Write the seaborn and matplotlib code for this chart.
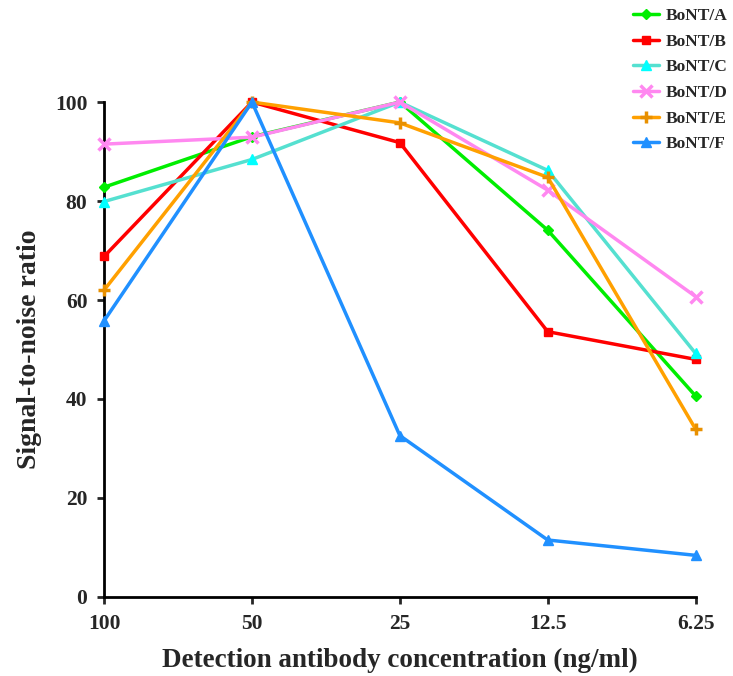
import pandas as pd
import seaborn as sns
import matplotlib.pyplot as plt

concentrations = ['100', '50', '25', '12.5', '6.25']
series_names = ['BoNT/A', 'BoNT/B', 'BoNT/C', 'BoNT/D', 'BoNT/E', 'BoNT/F']

bont_a = [82.8, 93.0, 100.0, 74.1, 40.6]
bont_b = [68.8, 100.0, 91.8, 53.6, 48.0]
bont_c = [79.9, 88.4, 100.0, 86.2, 49.2]
bont_d = [91.5, 92.9, 100.0, 82.2, 60.7]
bont_e = [62.0, 100.0, 95.8, 84.8, 33.9]
bont_f = [55.8, 100.0, 32.6, 11.5, 8.4]

line_colors = ['#00ee00', '#ff0000', '#55e0d0', '#ff88f0', '#ffa000', '#2090ff']
marker_colors = ['#00ee00', '#ff0000', '#00ffff', '#ff88f0', '#e89000', '#2090ff']
markers = ['D', 's', '^', 'x', '+', '^']
marker_sizes = [5, 6, 7, 9, 9, 7]

all_values = [bont_a, bont_b, bont_c, bont_d, bont_e, bont_f]
rows = []
for name, vals in zip(series_names, all_values):
    for i, v in enumerate(vals):
        rows.append({'series': name, 'pos': i, 'snr': v})
df = pd.DataFrame(rows)

sns.set_style('ticks')
plt.rcParams['font.family'] = ['Liberation Serif', 'DejaVu Serif']
plt.rcParams['font.weight'] = 'bold'

fig = plt.figure(figsize=(7.33, 6.76), dpi=100)
ax = fig.add_axes([0.142, 0.117, 0.807, 0.732])

handles = []
for idx, name in enumerate(series_names):
    sub = df[df['series'] == name]
    sns.lineplot(data=sub, x='pos', y='snr', ax=ax, color=line_colors[idx],
                 linewidth=2.5, legend=False, clip_on=False, zorder=3 + idx)
    mew = 2.5 if markers[idx] in ('x', '+') else 1
    ax.plot(sub['pos'], sub['snr'], linestyle='none', marker=markers[idx],
            markersize=marker_sizes[idx], color=marker_colors[idx],
            markeredgewidth=mew, clip_on=False, zorder=3 + idx)
    h, = ax.plot([], [], color=line_colors[idx], linewidth=2.5,
                 marker=markers[idx], markersize=marker_sizes[idx],
                 markerfacecolor=marker_colors[idx], markeredgecolor=marker_colors[idx],
                 markeredgewidth=mew)
    handles.append(h)

ax.set_xlim(0, 4)
ax.set_ylim(0, 100)
ax.set_xticks(range(len(concentrations)))
ax.set_xticklabels(concentrations)
ax.set_yticks([0, 20, 40, 60, 80, 100])
ax.tick_params(axis='both', labelsize=15.5, width=2, length=5, direction='out', pad=7)
for lab in ax.get_xticklabels() + ax.get_yticklabels():
    lab.set_fontweight('bold')
for side in ['left', 'bottom']:
    ax.spines[side].set_linewidth(2)
    ax.spines[side].set_color('black')
sns.despine(ax=ax)

ax.set_xlabel('Detection antibody concentration (ng/ml)', fontsize=19.5, fontweight='bold', labelpad=10)
ax.set_ylabel('Signal-to-noise ratio', fontsize=20, fontweight='bold', labelpad=9)

fig.legend(handles, series_names, loc='upper right', bbox_to_anchor=(1.012, 1.009),
           frameon=False, handlelength=1.5, labelspacing=0.55, handletextpad=0.4,
           borderpad=0.3,
           prop={'family': 'Liberation Serif', 'weight': 'bold', 'size': 12.5})

fig.savefig('out.png', dpi=100)
